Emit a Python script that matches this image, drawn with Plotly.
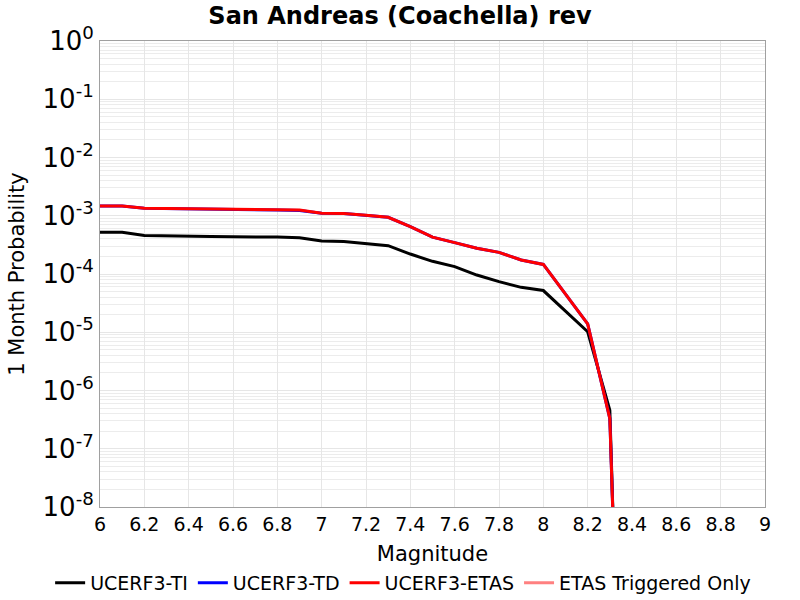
import plotly.graph_objects as go

# magnitude bins (x) and 1-month probabilities
mags = [6.0, 6.1, 6.2, 6.3, 6.4, 6.5, 6.6, 6.7, 6.8, 6.9, 7.0, 7.1, 7.2, 7.3,
        7.4, 7.5, 7.6, 7.7, 7.8, 7.9, 8.0, 8.1, 8.2, 8.3, 8.32]

prob_ti = [5.2e-4, 5.2e-4, 4.6e-4, 4.5e-4, 4.45e-4, 4.4e-4, 4.35e-4, 4.35e-4,
           4.3e-4, 4.2e-4, 3.7e-4, 3.6e-4, 3.3e-4, 3.06e-4, 2.2e-4, 1.65e-4,
           1.34e-4, 9.6e-5, 7.4e-5, 5.9e-5, 5.2e-5, 2.3e-5, 1.02e-5, 4.6e-7,
           1.4e-9]

prob_td = [1.47e-3, 1.47e-3, 1.34e-3, 1.33e-3, 1.30e-3, 1.29e-3, 1.28e-3, 1.27e-3,
           1.26e-3, 1.23e-3, 1.10e-3, 1.09e-3, 1.02e-3, 9.4e-4, 6.5e-4, 4.3e-4,
           3.46e-4, 2.76e-4, 2.35e-4, 1.74e-4, 1.46e-4, 4.5e-5, 1.39e-5, 3.3e-7,
           1.4e-9]

prob_etas = [1.47e-3, 1.47e-3, 1.35e-3, 1.34e-3, 1.32e-3, 1.31e-3, 1.30e-3, 1.29e-3,
             1.28e-3, 1.25e-3, 1.10e-3, 1.09e-3, 1.02e-3, 9.4e-4, 6.5e-4, 4.3e-4,
             3.46e-4, 2.76e-4, 2.35e-4, 1.74e-4, 1.46e-4, 4.5e-5, 1.39e-5, 3.3e-7,
             1.4e-9]

# triggered-only curve is not visible in the plotted range (legend entry only)
mags_trig = [6.0]
prob_trig = [None]

x_ticks = [6 + 0.2 * i for i in range(16)]
x_ticktext = ["6", "6.2", "6.4", "6.6", "6.8", "7", "7.2", "7.4", "7.6",
              "7.8", "8", "8.2", "8.4", "8.6", "8.8", "9"]
y_exps = [0, -1, -2, -3, -4, -5, -6, -7, -8]

FONT = "DejaVu Sans"

fig = go.Figure()
fig.add_trace(go.Scatter(x=mags, y=prob_ti, name="UCERF3-TI", mode="lines",
                         line=dict(color="black", width=3)))
fig.add_trace(go.Scatter(x=mags, y=prob_td, name="UCERF3-TD", mode="lines",
                         line=dict(color="blue", width=3)))
fig.add_trace(go.Scatter(x=mags, y=prob_etas, name="UCERF3-ETAS", mode="lines",
                         line=dict(color="red", width=3)))
fig.add_trace(go.Scatter(x=mags_trig, y=prob_trig, name="ETAS Triggered Only",
                         mode="lines", line=dict(color="#ff8080", width=3)))

fig.update_layout(
    width=800, height=600,
    margin=dict(l=100, r=35, t=41, b=93, autoexpand=False),
    paper_bgcolor="white", plot_bgcolor="white",
    font=dict(family=FONT, color="black"),
    title=dict(text="<b>San Andreas (Coachella) rev</b>", x=0.5, xanchor="center",
               y=0.988, yanchor="top", font=dict(size=24, family=FONT)),
    # x < 0 with left anchor lets the one-row legend use the full width
    legend=dict(orientation="h", x=-0.075, xanchor="left", y=-0.122, yanchor="top",
                font=dict(size=19, family=FONT), itemwidth=30,
                tracegroupgap=0),
    showlegend=True,
)

fig.update_xaxes(
    range=[6, 9], tickvals=x_ticks, ticktext=x_ticktext, automargin=False,
    tickfont=dict(size=19), ticks="", showgrid=True, gridcolor="#e6e6e6",
    gridwidth=1, zeroline=False, showline=True, linecolor="#a0a0a0",
    mirror=True, title=dict(text="Magnitude", font=dict(size=21), standoff=12),
)

fig.update_yaxes(
    type="log", range=[-8, 0], automargin=False,
    tickvals=[10.0 ** e for e in y_exps],
    ticktext=["10<sup>%d</sup>" % e for e in y_exps],
    tickfont=dict(size=26), ticks="", showgrid=True, gridcolor="#e6e6e6",
    minor=dict(showgrid=True, gridcolor="#ececec", dtick="D1"),
    zeroline=False, showline=True, linecolor="#a0a0a0", mirror=True,
    title=dict(text="1 Month Probability", font=dict(size=21), standoff=12),
)

# drop the default page margin so the 800x600 figure sits at the origin
fig.write_html("out.html", config={"displayModeBar": False},
               post_script="document.body.style.margin='0';")
